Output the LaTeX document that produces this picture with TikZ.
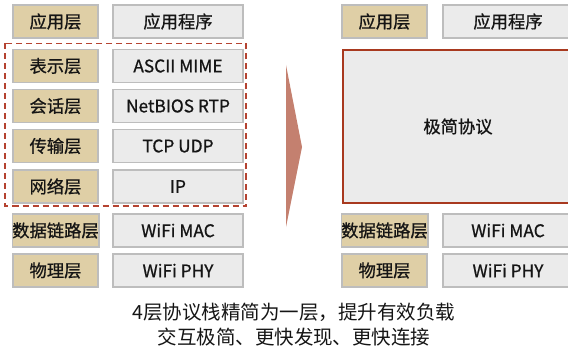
\documentclass[tikz,border=0pt]{standalone}
\usepackage{fontspec}
\setmainfont{Noto Sans CJK SC}
\newfontfamily\boxfont{Noto Sans CJK SC}[FakeBold=0.8]
\definecolor{tanfill}{HTML}{DFCFA6}
\definecolor{grayfill}{HTML}{EBEBEB}
\definecolor{boxline}{HTML}{BDBDBD}
\definecolor{redline}{HTML}{B54331}
\definecolor{darkred}{HTML}{A8391F}
\definecolor{arrowcol}{HTML}{C4806F}
\definecolor{txt}{HTML}{151515}
\begin{document}
\begin{tikzpicture}[x=1pt,y=-1pt,
  layer/.style={draw=boxline,line width=1.5pt,fill=tanfill,minimum width=85pt,minimum height=33pt,inner sep=0pt,font=\boxfont\fontsize{17.3}{17}\selectfont,text=txt},
  proto/.style={draw=boxline,line width=1.5pt,fill=grayfill,minimum width=130pt,minimum height=33pt,inner sep=0pt,font=\boxfont\fontsize{17.3}{17}\selectfont,text=txt},
  caption/.style={font=\fontsize{19.5}{25}\selectfont,text=txt,align=center}]
\useasboundingbox (0,0) rectangle (568,350);
% left column
\node[layer] (la1) at (55.5,21.5) {应用层};
\node[proto] (lp1) at (178,21.5) {应用程序};
\node[layer] (la2) at (55.5,66) {表示层};
\node[proto] (lp2) at (178,66) {ASCII MIME};
\node[layer] (la3) at (55.5,106) {会话层};
\node[proto] (lp3) at (178,106) {NetBIOS RTP};
\node[layer] (la4) at (55.5,146) {传输层};
\node[proto] (lp4) at (178,146) {TCP UDP};
\node[layer] (la5) at (55.5,186.5) {网络层};
\node[proto] (lp5) at (178,186.5) {IP};
\node[layer] (la6) at (55.5,230.5) {数据链路层};
\node[proto] (lp6) at (178,230.5) {WiFi MAC};
\node[layer] (la7) at (55.5,270.5) {物理层};
\node[proto] (lp7) at (178,270.5) {WiFi PHY};
\draw[redline,line width=1.5pt,dash pattern=on 6pt off 4pt] (5,43.5) rectangle (246,206);
% arrow
\fill[arrowcol] (286,65) -- (302,147) -- (286,227) -- cycle;
% right column
\node[layer] (ra1) at (384.5,21.5) {应用层};
\node[proto] (rp1) at (508,21.5) {应用程序};
\node[draw=darkred,line width=2pt,fill=grayfill,minimum width=231pt,minimum height=153pt,inner sep=0pt,font=\boxfont\fontsize{17.3}{17}\selectfont,text=txt] (simple) at (458,126.5) {极简协议};
\node[layer] (ra6) at (384.5,230.5) {数据链路层};
\node[proto] (rp6) at (508,230.5) {WiFi MAC};
\node[layer] (ra7) at (384.5,270.5) {物理层};
\node[proto] (rp7) at (508,270.5) {WiFi PHY};
% caption
\node[caption] (cap) at (294,324.5) {4层协议栈精简为一层，提升有效负载\\交互极简、更快发现、更快连接};
\end{tikzpicture}
\end{document}
